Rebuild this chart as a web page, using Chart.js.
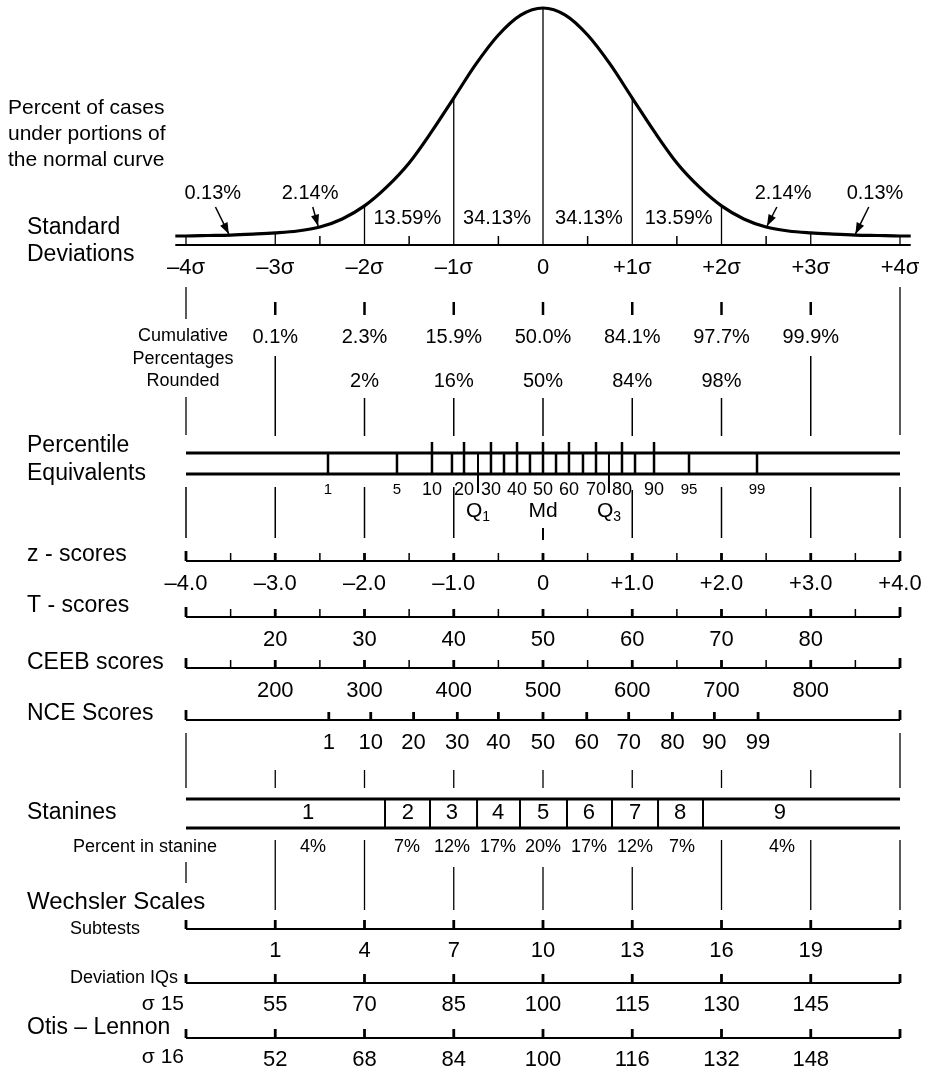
<!DOCTYPE html>
<html>
<head>
<meta charset="utf-8">
<script src="https://cdn.jsdelivr.net/npm/chart.js@4.4.1/dist/chart.umd.min.js"></script>
<style>
  html, body { margin: 0; padding: 0; background: #fff; }
  canvas { display: block; }
</style>
</head>
<body>
<canvas id="grafico_normal" width="935" height="1072"></canvas>
<script>
// normal curve, height in percent of the peak
const curveZ = [-4.12, -4, -3.75, -3.5, -3.25, -3, -2.75, -2.5, -2.25, -2, -1.75, -1.5, -1.25, -1, -0.75, -0.5, -0.25,
  0, 0.25, 0.5, 0.75, 1, 1.25, 1.5, 1.75, 2, 2.25, 2.5, 2.75, 3, 3.25, 3.5, 3.75, 4, 4.12];
const curveHeight = [3.8, 3.8, 4.0, 4.2, 4.6, 5.1, 5.9, 7.6, 11.0, 16.5, 24.5, 34.6, 47.7, 62.0, 76.4, 88.6, 97.0,
  100, 97.0, 88.6, 76.4, 62.0, 47.7, 34.6, 24.5, 16.5, 11.0, 7.6, 5.9, 5.1, 4.6, 4.2, 4.0, 3.8, 3.8];

// percent of cases under the curve
const areaLabels = ['13.59%', '34.13%', '34.13%', '13.59%'];
const areaZ = [-1.52, -0.515, 0.515, 1.52];
const tailLabels = ['0.13%', '2.14%', '2.14%', '0.13%'];
const tailLabelZ = [-3.7, -2.61, 2.69, 3.72];
const tailArrowZ = [-3.52, -2.52, 2.51, 3.5];

const sigmaZ = [-4, -3, -2, -1, 0, 1, 2, 3, 4];
const sigmaLabels = ['–4σ', '–3σ', '–2σ', '–1σ', '0', '+1σ', '+2σ', '+3σ', '+4σ'];

const cumZ = [-3, -2, -1, 0, 1, 2, 3];
const cumPercent = ['0.1%', '2.3%', '15.9%', '50.0%', '84.1%', '97.7%', '99.9%'];
const cumRounded = ['', '2%', '16%', '50%', '84%', '98%', ''];

// percentile equivalents (positions as drawn, in sigma units)
const pctValues = [1, 5, 10, 15, 20, 25, 30, 35, 40, 45, 50, 55, 60, 65, 70, 75, 80, 85, 90, 95, 99];
const pctZ = [-2.409, -1.636, -1.244, -1.02, -0.885, -0.728, -0.583, -0.437, -0.291, -0.146, 0,
  0.146, 0.291, 0.448, 0.594, 0.739, 0.885, 1.031, 1.244, 1.636, 2.398];
const pctLabels = ['1', '5', '10', '', '20', '', '30', '', '40', '', '50', '', '60', '', '70', '', '80', '', '90', '95', '99'];

const zScoreLabels = ['–4.0', '–3.0', '–2.0', '–1.0', '0', '+1.0', '+2.0', '+3.0', '+4.0'];
const tScores = [20, 30, 40, 50, 60, 70, 80];
const ceebScores = [200, 300, 400, 500, 600, 700, 800];
const nceScores = [1, 10, 20, 30, 40, 50, 60, 70, 80, 90, 99];
const nceZ = [-2.40, -1.93, -1.45, -0.96, -0.50, 0, 0.49, 0.96, 1.45, 1.92, 2.41];

const stanineBounds = [-1.77, -1.266, -0.739, -0.258, 0.269, 0.773, 1.289, 1.793];
const stanines = ['1', '2', '3', '4', '5', '6', '7', '8', '9'];
const stanineLabelZ = [-2.633, -1.513, -1.02, -0.504, 0, 0.515, 1.031, 1.535, 2.655];
const staninePercent = ['4%', '7%', '12%', '17%', '20%', '17%', '12%', '7%', '4%'];
const staninePercentZ = [-2.577, -1.524, -1.02, -0.504, 0, 0.515, 1.031, 1.557, 2.678];

const subtests = [1, 4, 7, 10, 13, 16, 19];
const deviationIQ = [55, 70, 85, 100, 115, 130, 145];
const otisLennon = [52, 68, 84, 100, 116, 132, 148];

// page rows (pixels from top)
const curveBase = 245, curveTop = 8;
const FONT = '"Liberation Sans", Arial, Helvetica, sans-serif';

function heightAt(z) {
  return curveHeight[curveZ.indexOf(z)];
}

const desenho = {
  id: 'desenho',
  beforeDraw(chart) {
    const c = chart.ctx;
    c.save();
    c.fillStyle = '#fff';
    c.fillRect(0, 0, chart.width, chart.height);
    c.restore();
  },
  afterDatasetsDraw(chart) {
    const c = chart.ctx;
    const X = v => chart.scales.x.getPixelForValue(v);
    const R = v => chart.scales.row.getPixelForValue(v);
    const C = v => chart.scales.yc.getPixelForValue(v);

    const ln = (x1, y1, x2, y2, w) => {
      c.lineWidth = w;
      c.beginPath();
      c.moveTo(x1, y1);
      c.lineTo(x2, y2);
      c.stroke();
    };
    const txt = (s, x, y, size, align) => {
      c.font = size + 'px ' + FONT;
      c.textAlign = align || 'center';
      c.textBaseline = 'middle';
      c.fillText(s, x, y);
    };
    const vseg = (z, y1, y2, w) => ln(X(z), R(y1), X(z), R(y2), w);

    c.save();
    c.strokeStyle = '#000';
    c.fillStyle = '#000';
    c.lineCap = 'butt';

    // baseline under the curve
    ln(X(curveZ[0]), C(0), X(curveZ[curveZ.length - 1]), C(0), 2);
    // lines from baseline up to the curve
    [-4, -3, -2, -1, 0, 1, 2, 3, 4].forEach(z => ln(X(z), C(0), X(z), C(heightAt(z)) + 1, 1.3));
    [-2.5, -1.5, -0.5, 0.5, 1.5, 2.5].forEach(z => ln(X(z), C(0), X(z), R(curveBase - 9), 1.5));

    areaLabels.forEach((s, i) => txt(s, X(areaZ[i]), R(218), 20));
    tailLabels.forEach((s, i) => {
      txt(s, X(tailLabelZ[i]), R(193), 20);
      // arrow to the curve
      const x1 = X(tailLabelZ[i] + (tailArrowZ[i] > 0 ? -0.07 : 0.03));
      const y1 = R(207);
      const x2 = X(tailArrowZ[i]);
      const h = curveHeight[curveZ.indexOf(Math.round(tailArrowZ[i] * 2) / 2)];
      const y2 = C(h) - 1;
      ln(x1, y1, x2, y2, 1.5);
      const a = Math.atan2(y2 - y1, x2 - x1);
      c.beginPath();
      c.moveTo(x2, y2);
      c.lineTo(x2 - 12 * Math.cos(a - 0.35), y2 - 12 * Math.sin(a - 0.35));
      c.lineTo(x2 - 12 * Math.cos(a + 0.35), y2 - 12 * Math.sin(a + 0.35));
      c.closePath();
      c.fill();
    });

    // left titles
    txt('Percent of cases', 8, R(108), 21, 'left');
    txt('under portions of', 8, R(134), 21, 'left');
    txt('the normal curve', 8, R(160), 21, 'left');
    txt('Standard', 27, R(228), 23, 'left');
    txt('Deviations', 27, R(255), 23, 'left');
    sigmaLabels.forEach((s, i) => txt(s, X(sigmaZ[i]), R(268), 22));

    // cumulative percentages
    sigmaZ.forEach(z => {
      if (z === -4) { vseg(z, 287, 319, 1.3); vseg(z, 397, 435, 1.3); }
      else if (z === 4) { vseg(z, 287, 435, 1.3); }
      else {
        vseg(z, 302, 315, 2.5);
        vseg(z, Math.abs(z) === 3 ? 356 : 398, 436, 1.5);
      }
    });
    txt('Cumulative', 183, R(336), 18);
    txt('Percentages', 183, R(359), 18);
    txt('Rounded', 183, R(381), 18);
    cumPercent.forEach((s, i) => txt(s, X(cumZ[i]), R(337), 20));
    cumRounded.forEach((s, i) => { if (s) txt(s, X(cumZ[i]), R(381), 20); });

    // percentile equivalents
    txt('Percentile', 27, R(446), 23, 'left');
    txt('Equivalents', 27, R(474), 23, 'left');
    ln(X(-4), R(453), X(4), R(453), 3);
    ln(X(-4), R(474), X(4), R(474), 3);
    pctValues.forEach((p, i) => {
      const z = pctZ[i];
      if (p === 25 || p === 75) vseg(z, 453, 493, 2);
      else if (p % 10 === 0 && p >= 10 && p <= 90) vseg(z, 442, 474, 2.5);
      else vseg(z, 453, 474, 2.5);
      const lab = pctLabels[i];
      if (lab) txt(lab, X(z), R(490), (p < 10 || p > 90) ? 15 : 18);
    });
    // Q1, Md, Q3
    const q = (sub, z) => {
      c.font = '21px ' + FONT;
      const wq = c.measureText('Q').width;
      c.font = '14px ' + FONT;
      const ws = c.measureText(sub).width;
      const x0 = X(z) - (wq + ws) / 2;
      txt('Q', x0, R(511), 21, 'left');
      txt(sub, x0 + wq, R(517), 14, 'left');
    };
    q('1', pctZ[5]);
    txt('Md', X(0), R(511), 21);
    q('3', pctZ[15]);

    sigmaZ.forEach(z => {
      if (z === 0) vseg(z, 528, 540, 2);
      else vseg(z, z === 1 ? 490 : 487, 538, 1.5);
    });

    // score rows with a tick every half sigma
    const halfRow = (y, labels, labelZ) => {
      ln(X(-4), R(y), X(4), R(y), 2);
      for (let k = -8; k <= 8; k++) {
        const z = k / 2;
        const major = k % 2 === 0;
        vseg(z, y - (Math.abs(k) === 8 ? 10 : 8), y, major ? 2.8 : 1.5);
      }
      labels.forEach((s, i) => txt(String(s), X(labelZ[i]), R(y + 23), 22));
    };
    txt('z - scores', 27, R(555), 23, 'left');
    halfRow(561, zScoreLabels, sigmaZ);
    txt('T - scores', 27, R(606), 23, 'left');
    halfRow(617, tScores, tScores.map(t => (t - 50) / 10));
    txt('CEEB scores', 27, R(663), 23, 'left');
    halfRow(668, ceebScores, ceebScores.map(s => (s - 500) / 100));

    // NCE
    txt('NCE Scores', 27, R(714), 23, 'left');
    ln(X(-4), R(720), X(4), R(720), 2);
    vseg(-4, 710, 720, 2.8);
    vseg(4, 710, 720, 2.8);
    nceScores.forEach((s, i) => {
      vseg(nceZ[i], 712, 720, 2.8);
      txt(String(s), X(nceZ[i]), R(743), 22);
    });
    sigmaZ.forEach(z => {
      if (Math.abs(z) === 4) vseg(z, 733, 788, 1.3);
      else vseg(z, 770, 788, 1.3);
    });

    // stanines
    txt('Stanines', 27, R(813), 23, 'left');
    ln(X(-4), R(799), X(4), R(799), 3);
    ln(X(-4), R(828), X(4), R(828), 3);
    stanineBounds.forEach(z => vseg(z, 799, 828, 2));
    stanines.forEach((s, i) => txt(s, X(stanineLabelZ[i]), R(813), 22));
    txt('Percent in stanine', 145, R(847), 18);
    staninePercent.forEach((s, i) => txt(s, X(staninePercentZ[i]), R(847), 18));
    sigmaZ.forEach(z => {
      if (z === -4) vseg(z, 862, 883, 1.3);
      else if (Math.abs(z) <= 1) vseg(z, 867, 910, 1.3);
      else vseg(z, 840, 910, 1.3);
    });

    // Wechsler, deviation IQ, Otis-Lennon
    const intRow = (y, labels) => {
      ln(X(-4), R(y), X(4), R(y), 2);
      sigmaZ.forEach(z => vseg(z, y - 9, y, 2.8));
      labels.forEach((s, i) => txt(String(s), X(i - 3), R(y + 22), 22));
    };
    txt('Wechsler Scales', 27, R(902), 24, 'left');
    txt('Subtests', 70, R(929), 18, 'left');
    intRow(929, subtests);
    txt('Deviation IQs', 178, R(978), 18, 'right');
    intRow(983, deviationIQ);
    txt('σ 15', 184, R(1004), 21, 'right');
    txt('Otis – Lennon', 27, R(1028), 23, 'left');
    intRow(1038, otisLennon);
    txt('σ 16', 184, R(1057), 21, 'right');

    c.restore();
  }
};

window.addEventListener('load', () => {
  const canvas = document.getElementById('grafico_normal');
  const W = 935, H = 1072, pxPerSigma = 89.25, zeroX = 543;
  const k = (curveBase - curveTop) / 100;

  new Chart(canvas, {
    type: 'line',
    data: {
      datasets: [{
        data: curveZ.map((z, i) => ({ x: z, y: curveHeight[i] })),
        yAxisID: 'yc',
        borderColor: '#000',
        borderWidth: 3.2,
        pointRadius: 0,
        fill: false,
        cubicInterpolationMode: 'monotone'
      }]
    },
    options: {
      responsive: false,
      animation: false,
      events: [],
      layout: { padding: 0 },
      plugins: { legend: false, tooltip: { enabled: false } },
      scales: {
        x: { type: 'linear', display: false, min: -zeroX / pxPerSigma, max: (W - zeroX) / pxPerSigma },
        yc: { type: 'linear', display: false, min: -(H - curveBase) / k, max: 100 + curveTop / k },
        row: { type: 'linear', display: false, min: 0, max: H, reverse: true }
      }
    },
    plugins: [desenho]
  });
});
</script>
</body>
</html>
